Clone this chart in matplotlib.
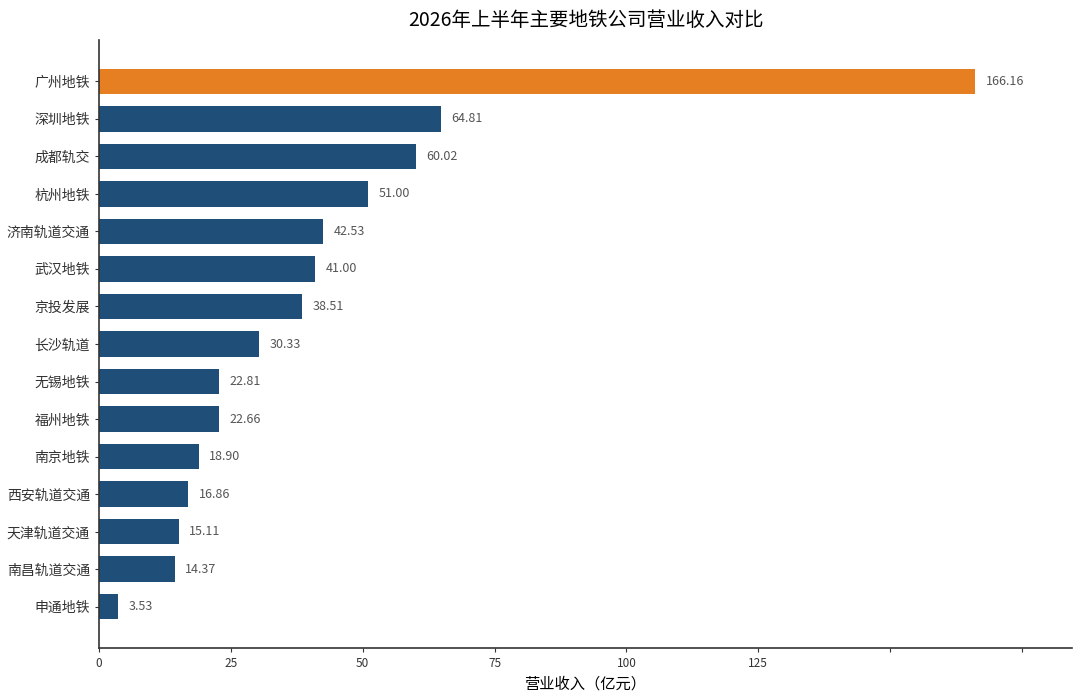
import matplotlib
matplotlib.use('Agg')
import matplotlib.pyplot as plt
import numpy as np

plt.rcParams['font.family'] = ['Noto Sans CJK SC', 'DejaVu Sans']

companies = ['广州地铁', '深圳地铁', '成都轨交', '杭州地铁', '济南轨道交通', '武汉地铁', '京投发展',
             '长沙轨道', '无锡地铁', '福州地铁', '南京地铁', '西安轨道交通', '天津轨道交通',
             '南昌轨道交通', '申通地铁']
revenue = [166.16, 64.81, 60.02, 51.00, 42.53, 41.00, 38.51, 30.33, 22.81, 22.66,
           18.90, 16.86, 15.11, 14.37, 3.53]
xticks = [0, 25, 50, 75, 100, 125, 150, 175]
xtick_labels = ['0', '25', '50', '75', '100', '125', '', '']

fig = plt.figure(figsize=(10.8, 6.98), dpi=100)
ax = fig.add_axes([0.0917, 0.0716, 0.9009, 0.8711])

y = np.arange(len(companies))
colors = ['#E67E22' if i == 0 else '#1F4E79' for i in range(len(companies))]
ax.barh(y, revenue, height=0.68, color=colors)

for yi, v in zip(y, revenue):
    ax.text(v + 2.0, yi, f'{v:.2f}', va='center', ha='left', fontsize=9, color='#555555')

ax.set_yticks(y)
ax.set_yticklabels(companies, fontsize=10)
ax.set_ylim(len(companies) - 1 + 1.1, -1.1)
ax.set_xlim(0, 184.5)
ax.set_xticks(xticks)
ax.set_xticklabels(xtick_labels, fontsize=8.5)
ax.set_xlabel('营业收入（亿元）', fontsize=11)
ax.set_title('2026年上半年主要地铁公司营业收入对比', fontsize=14, pad=10)

for s in ['top', 'right']:
    ax.spines[s].set_visible(False)
for s in ['left', 'bottom']:
    ax.spines[s].set_color('#333333')
    ax.spines[s].set_linewidth(1.2)
ax.tick_params(colors='#333333', length=3)

fig.savefig('out.png', dpi=100)
